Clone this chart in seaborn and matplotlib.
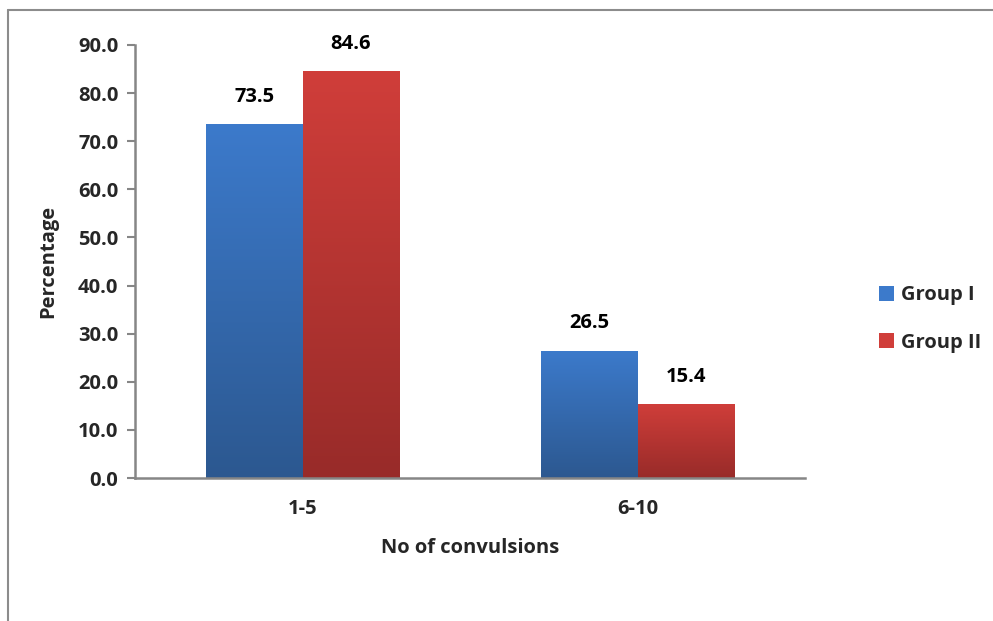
import numpy as np
import pandas as pd
import matplotlib
matplotlib.use("Agg")
import matplotlib.pyplot as plt
from matplotlib.colors import LinearSegmentedColormap
from matplotlib.patches import Rectangle
from matplotlib.lines import Line2D
import seaborn as sns

categories = ["1-5", "6-10"]
groups = ["Group I", "Group II"]
group1 = [73.5, 26.5]
group2 = [84.6, 15.4]
yticks = [0, 10, 20, 30, 40, 50, 60, 70, 80, 90]

df = pd.DataFrame({
    "convulsions": categories * 2,
    "group": [groups[0]] * len(categories) + [groups[1]] * len(categories),
    "pct": group1 + group2,
})

sns.set_theme(style="white")
plt.rcParams["font.family"] = ["Open Sans", "DejaVu Sans"]
plt.rcParams["font.weight"] = "bold"

FS = 14.5

# top/bottom gradient colours per series
grad = {
    groups[0]: ("#3c7acb", "#2c5890"),
    groups[1]: ("#d03e3a", "#982b29"),
}

fig = plt.figure(figsize=(9.93, 6.21), dpi=100)
ax = fig.add_axes([135 / 993, 1 - 478 / 621, (805 - 135) / 993, (478 - 45) / 621])

sns.barplot(data=df, x="convulsions", y="pct", hue="group", order=categories,
            hue_order=groups, width=0.574, palette=[grad[g][0] for g in groups],
            ax=ax, legend=False, errorbar=None)

ax.set_ylim(0, 90)
ax.set_xlim(-0.5, len(categories) - 0.5)

# paint each bar with a vertical gradient clipped to the bar shape
for container, g in zip(ax.containers, groups):
    cmap = LinearSegmentedColormap.from_list(g, [grad[g][1], grad[g][0]])
    for bar, val in zip(container.patches, [group1, group2][groups.index(g)]):
        x0, w, h = bar.get_x(), bar.get_width(), bar.get_height()
        bar.set_facecolor("none")
        bar.set_edgecolor("none")
        img = ax.imshow(np.linspace(0, 1, 256).reshape(-1, 1), cmap=cmap,
                        origin="lower", aspect="auto",
                        extent=[x0, x0 + w, 0, h], zorder=2)
        clip = Rectangle((x0, 0), w, h, transform=ax.transData)
        img.set_clip_path(clip)
        ax.text(x0 + w / 2, h + 3.6, f"{val:.1f}", ha="center", va="bottom",
                fontsize=FS, fontweight="bold", color="black")

ax.set_xlim(-0.5, len(categories) - 0.5)
ax.set_ylim(0, 90)
ax.set_yticks(yticks)
ax.set_yticklabels([f"{v:.1f}" for v in yticks], fontsize=FS, fontweight="bold")
ax.set_xticks(range(len(categories)))
ax.set_xticklabels(categories, fontsize=FS, fontweight="bold")
ax.tick_params(axis="y", length=6, width=1.5, color="#868686", pad=6, left=True)
ax.tick_params(axis="x", length=0, pad=15)

for s in ["top", "right"]:
    ax.spines[s].set_visible(False)
for s in ["left", "bottom"]:
    ax.spines[s].set_color("#868686")
    ax.spines[s].set_linewidth(1.8)

ax.set_xlabel("No of convulsions", fontsize=FS, fontweight="bold", labelpad=14)
ax.set_ylabel("Percentage", fontsize=FS, fontweight="bold", labelpad=14)

handles = [Rectangle((0, 0), 1, 1, facecolor=grad[g][0], edgecolor="none") for g in groups]
fig.legend(handles, groups, loc="center left", bbox_to_anchor=(861 / 993, 1 - 319 / 621),
           frameon=False, handlelength=0.75, handleheight=0.75,
           handletextpad=0.35, labelspacing=1.35, prop={"weight": "bold", "size": FS})

# outer chart-area frame
fig.add_artist(Line2D([8 / 993, 8 / 993], [0, 1 - 10 / 621], transform=fig.transFigure,
                      color="#8c8c8c", lw=1.5))
fig.add_artist(Line2D([8 / 993, 1], [1 - 10 / 621, 1 - 10 / 621], transform=fig.transFigure,
                      color="#8c8c8c", lw=1.5))

fig.savefig("out.png", dpi=100)
